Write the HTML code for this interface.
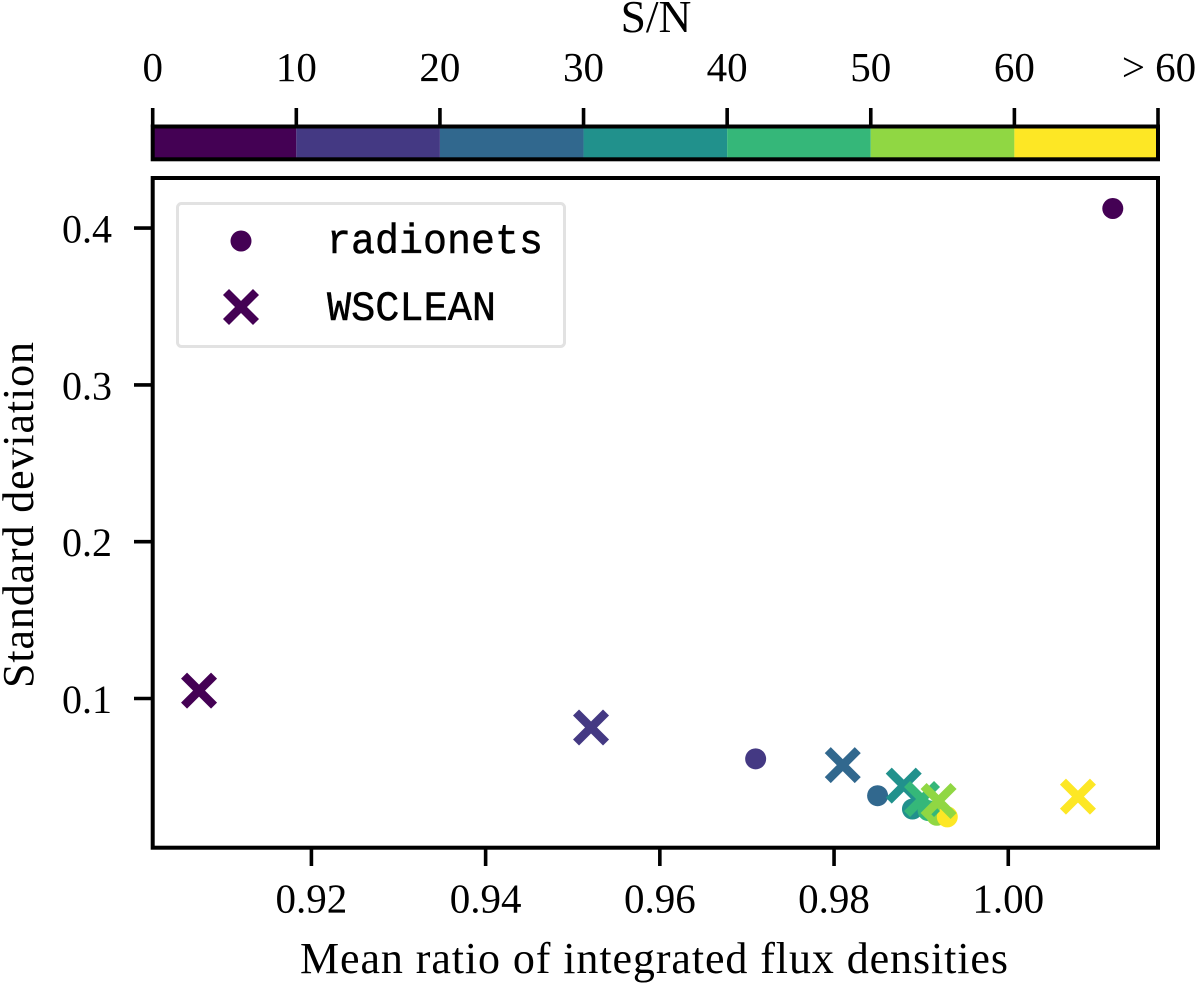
<!DOCTYPE html>
<html lang="en">
<head>
<meta charset="utf-8">
<title>Mean ratio vs standard deviation by S/N</title>
<style>
html,body{margin:0;padding:0;background:#fff;}
svg{display:block;}
text{font-family:"Liberation Serif",serif;fill:#000;}
.mono{font-family:"Liberation Mono",monospace;stroke:#000;stroke-width:0.5px;}
</style>
</head>
<body>
<svg id="chart" width="1200" height="985" viewBox="0 0 1200 985" xmlns="http://www.w3.org/2000/svg">
  <rect width="1200" height="985" fill="#fff"/>
  <text x="656" y="32" font-size="45.5" text-anchor="middle">S/N</text>
  <g id="colorbar"></g>
  <g id="plot"></g>
  <text x="654" y="973" font-size="44" text-anchor="middle" textLength="708" lengthAdjust="spacing">Mean ratio of integrated flux densities</text>
  <text transform="translate(33,515) rotate(-90)" font-size="44" text-anchor="middle" textLength="346" lengthAdjust="spacing">Standard deviation</text>
  <g>
    <rect x="177.5" y="203.5" width="387" height="143" rx="4" fill="#fff" fill-opacity="0.8" stroke="#e2e2e2" stroke-width="3"/>
    <circle cx="241" cy="241" r="10.5" fill="#440154"/>
    <path d="M226 292L256 322M256 292L226 322" stroke="#440154" stroke-width="8.5" fill="none"/>
    <text class="mono" x="327" y="253" font-size="42" textLength="216" lengthAdjust="spacingAndGlyphs">radionets</text>
    <text class="mono" x="327" y="320" font-size="42" textLength="169" lengthAdjust="spacingAndGlyphs">WSCLEAN</text>
  </g>
</svg>
<script>
const xTicks = [0.92, 0.94, 0.96, 0.98, 1.00];
const xTickLabels = ["0.92", "0.94", "0.96", "0.98", "1.00"];
const yTicks = [0.1, 0.2, 0.3, 0.4];
const yTickLabels = ["0.1", "0.2", "0.3", "0.4"];
const snrBinEdges = [0, 10, 20, 30, 40, 50, 60, 70];
const snrBinLabels = ["0", "10", "20", "30", "40", "50", "60", "> 60"];
const radionetsMean = [1.012, 0.971, 0.985, 0.989, 0.9908, 0.9918, 0.993];
const radionetsStd = [0.4125, 0.0615, 0.038, 0.0295, 0.0285, 0.0255, 0.0245];
const wscleanMean = [0.9071, 0.9521, 0.981, 0.988, 0.9901, 0.992, 1.008];
const wscleanStd = [0.105, 0.0815, 0.0575, 0.0444, 0.0359, 0.0346, 0.0374];
const binColors = ["#440154", "#443983", "#31688e", "#21918c", "#35b779", "#90d743", "#fde725"];

const NS = "http://www.w3.org/2000/svg";
const plotBox = {left: 152.7, right: 1158, top: 178, bottom: 847.7};
const xDomain = [0.90178, 1.01719];
const yDomain = [0.00484, 0.43195];
const cbarBox = {left: 152.7, right: 1158, top: 127, bottom: 159.3};

function xScale(v) {
  return plotBox.left + (v - xDomain[0]) / (xDomain[1] - xDomain[0]) * (plotBox.right - plotBox.left);
}
function yScale(v) {
  return plotBox.bottom - (v - yDomain[0]) / (yDomain[1] - yDomain[0]) * (plotBox.bottom - plotBox.top);
}
function snrScale(v) {
  const a = snrBinEdges[0], b = snrBinEdges[snrBinEdges.length - 1];
  return cbarBox.left + (v - a) / (b - a) * (cbarBox.right - cbarBox.left);
}
function make(tag, attrs, parent) {
  const el = document.createElementNS(NS, tag);
  for (const k in attrs) el.setAttribute(k, attrs[k]);
  parent.appendChild(el);
  return el;
}

const colorbar = document.getElementById("colorbar");
binColors.forEach(function (color, i) {
  const x0 = snrScale(snrBinEdges[i]);
  const x1 = snrScale(snrBinEdges[i + 1]);
  const seg = make("rect", {x: x0, y: cbarBox.top, width: x1 - x0, height: cbarBox.bottom - cbarBox.top, fill: color}, colorbar);
  
  
});
const cbarFrame = make("rect", {x: cbarBox.left, y: cbarBox.top - 0.5, width: cbarBox.right - cbarBox.left, height: cbarBox.bottom - cbarBox.top + 0.5, fill: "none", stroke: "#000", "stroke-width": 4}, colorbar);


snrBinEdges.forEach(function (edge, i) {
  const x = snrScale(edge);
  const tick = make("line", {x1: x, x2: x, y1: 108, y2: 127, stroke: "#000", "stroke-width": 3.6}, colorbar);
  
  
  const label = make("text", {x: x + (i === 7 ? 1 : 0), y: 81, "font-size": 41, "text-anchor": "middle"}, colorbar);
  label.textContent = snrBinLabels[i];
  
  
});

const plot = document.getElementById("plot");
xTicks.forEach(function (v, i) {
  const x = xScale(v);
  const tick = make("line", {x1: x, x2: x, y1: plotBox.bottom, y2: 866, stroke: "#000", "stroke-width": 3.6}, plot);
  
  
  const label = make("text", {x: x, y: 912.5, "font-size": 41, "text-anchor": "middle"}, plot);
  label.textContent = xTickLabels[i];
  
  
});
yTicks.forEach(function (v, i) {
  const y = yScale(v);
  const tick = make("line", {x1: 134, x2: plotBox.left, y1: y, y2: y, stroke: "#000", "stroke-width": 3.6}, plot);
  
  
  const label = make("text", {x: 112, y: y + 14.5, "font-size": 40, "text-anchor": "end"}, plot);
  label.textContent = yTickLabels[i];
  
  
});
radionetsMean.forEach(function (v, i) {
  const pt = make("circle", {cx: xScale(v), cy: yScale(radionetsStd[i]), r: 10.5, fill: binColors[i]}, plot);
  
  
});
wscleanMean.forEach(function (v, i) {
  const cx = xScale(v), cy = yScale(wscleanStd[i]), d = 15;
  const mark = make("path", {d: "M" + (cx - d) + " " + (cy - d) + "L" + (cx + d) + " " + (cy + d) + "M" + (cx + d) + " " + (cy - d) + "L" + (cx - d) + " " + (cy + d), stroke: binColors[i], "stroke-width": 8.5, fill: "none"}, plot);
  
  
});
const frame = make("rect", {x: plotBox.left, y: plotBox.top, width: plotBox.right - plotBox.left, height: plotBox.bottom - plotBox.top, fill: "none", stroke: "#000", "stroke-width": 4}, plot);


</script>
</body>
</html>
